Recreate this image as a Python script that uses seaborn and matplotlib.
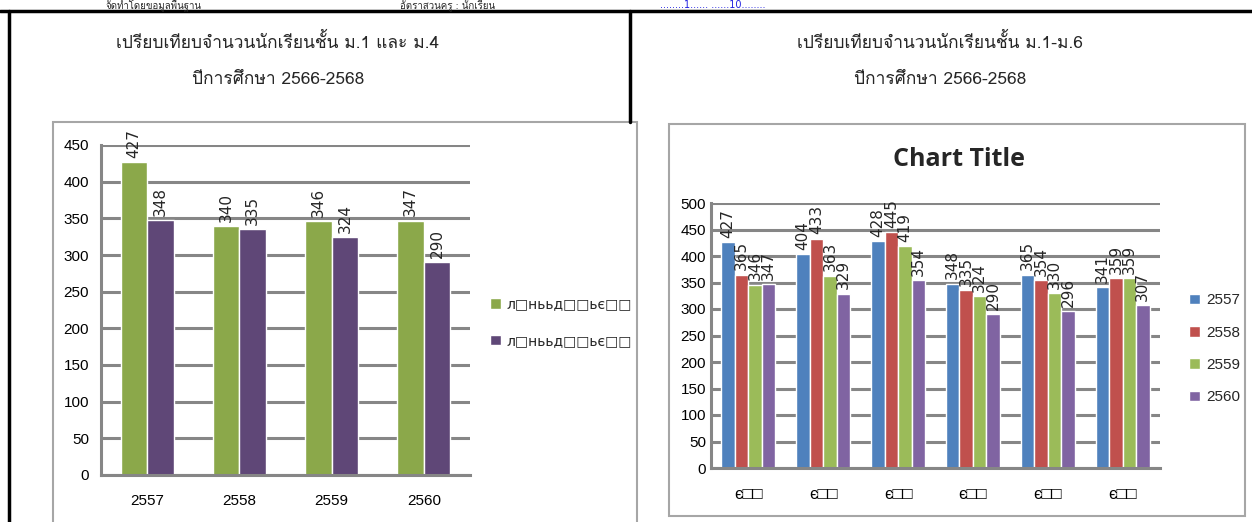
import matplotlib
matplotlib.use("Agg")
import matplotlib.pyplot as plt
from matplotlib import font_manager
from matplotlib.ft2font import FT2Font
from matplotlib.lines import Line2D
from matplotlib.patches import Rectangle
import seaborn as sns
import pandas as pd

# --- Data ---
left_years = ["2557", "2558", "2559", "2560"]
left_series = ["л□нььд□□ьє□□", "л□нььд□□ьє□□"]
left_m1 = [427, 340, 346, 347]
left_m4 = [348, 335, 324, 290]

right_classes = ["є□□"] * 6
right_years = ["2557", "2558", "2559", "2560"]
right_2557 = [427, 404, 428, 348, 365, 341]
right_2558 = [365, 433, 445, 335, 354, 359]
right_2559 = [346, 363, 419, 324, 330, 359]
right_2560 = [347, 329, 354, 290, 296, 307]

left_title = ["เปรียบเทียบจำนวนนักเรียนชั้น ม.1 และ ม.4", "ปีการศึกษา 2566-2568"]
right_title = ["เปรียบเทียบจำนวนนักเรียนชั้น ม.1-ม.6", "ปีการศึกษา 2566-2568"]

W, H = 1252, 522
BOXY = ["DejaVu Sans", "Noto Sans CJK SC"]


def find_thai_font():
    # look for any installed font that has Thai glyphs
    for f in font_manager.fontManager.ttflist:
        try:
            cmap = FT2Font(f.fname).get_charmap()
        except Exception:
            continue
        if 0x0E01 in cmap and 0x0E40 in cmap:
            return f.name
    return None


def px_axes(fig, x0, y0, x1, y1):
    return fig.add_axes([x0 / W, 1 - y1 / H, (x1 - x0) / W, (y1 - y0) / H])


def style_axes(ax, ymax, step):
    ax.set_ylim(0, ymax)
    ax.set_yticks(range(0, ymax + 1, step))
    ax.set_xlabel("")
    ax.set_ylabel("")
    ax.grid(axis="y", color="#868686", linewidth=2.2)
    ax.grid(axis="x", visible=False)
    ax.set_axisbelow(True)
    for side in ["top", "right"]:
        ax.spines[side].set_visible(False)
    for side in ["left", "bottom"]:
        ax.spines[side].set_color("#868686")
        ax.spines[side].set_linewidth(2.2)
    ax.tick_params(axis="both", colors="#868686", length=5, width=1.5, labelsize=11)
    for lab in ax.get_yticklabels():
        lab.set_color("black")
        lab.set_family("Liberation Sans")
    for lab in ax.get_xticklabels():
        lab.set_color("black")
        lab.set_family(["Liberation Sans", "Noto Sans CJK SC"])
    ax.set_facecolor("white")


def add_labels(ax):
    for cont in ax.containers:
        ax.bar_label(cont, labels=[f"{int(v)}" for v in cont.datavalues], rotation=90,
                     padding=3, fontsize=11, family="DejaVu Sans")


sns.set_theme(style="white")
thai = find_thai_font()
title_family = [thai, "DejaVu Sans"] if thai else ["DejaVu Sans"]
plt.rcParams["font.family"] = ["DejaVu Sans", "Noto Sans CJK SC"]

fig = plt.figure(figsize=(W / 100, H / 100), dpi=100)
fig.patch.set_facecolor("white")

# document frame lines
fig.add_artist(Line2D([0, 1], [1 - 11 / H, 1 - 11 / H], color="black", linewidth=2.5))
fig.add_artist(Line2D([9 / W, 9 / W], [0, 1 - 11 / H], color="black", linewidth=2.5))
fig.add_artist(Line2D([630 / W, 630 / W], [1 - 122 / H, 1 - 11 / H], color="black", linewidth=2.5))

# half-hidden text line of the document above the frame
fig.text(660 / W, 1 - 5 / H, "........1...... ......10........", color="#2020e0", fontsize=7,
         ha="left", va="center")
fig.text(105 / W, 1 - 5 / H, "จัดทำโดยข้อมูลพื้นฐาน", fontsize=7, ha="left", va="center",
         family=title_family)
fig.text(400 / W, 1 - 5 / H, "อัตราส่วนครู : นักเรียน", fontsize=7, ha="left", va="center",
         family=title_family)

# section titles
for cx, lines in [(278, left_title), (940, right_title)]:
    fig.text(cx / W, 1 - 42 / H, lines[0], fontsize=12.5, ha="center", va="center", family=title_family)
    fig.text(cx / W, 1 - 80 / H, lines[1], fontsize=12.5, ha="center", va="center", family=title_family)

# chart boxes
fig.add_artist(Rectangle((53 / W, -0.01), (637 - 53) / W, 1 - 122 / H + 0.01, transform=fig.transFigure,
                         facecolor="white", edgecolor="#a6a6a6", linewidth=1.5, zorder=0))
fig.add_artist(Rectangle((669 / W, 1 - 516 / H), (1245 - 669) / W, (516 - 124) / H,
                         transform=fig.transFigure, facecolor="white", edgecolor="#a6a6a6",
                         linewidth=1.5, zorder=0))

# --- left chart ---
left_df = pd.DataFrame({
    "year": left_years * 2,
    "count": left_m1 + left_m4,
    "series": ["m1"] * 4 + ["m4"] * 4,
})
ax1 = px_axes(fig, 101, 145, 470, 475)
sns.barplot(data=left_df, x="year", y="count", hue="series", ax=ax1,
            palette=["#8BA84A", "#5F4777"], width=0.575, saturation=1)
style_axes(ax1, 450, 50)
ax1.set_xlim(-0.5, 3.5)
ax1.tick_params(axis="x", pad=14)
ax1.set_xticks([-0.5, 0.5, 1.5, 2.5, 3.5], minor=True)
ax1.tick_params(axis="x", which="major", length=0)
ax1.tick_params(axis="x", which="minor", length=6, width=1.5, colors="#868686")
add_labels(ax1)
handles, _ = ax1.get_legend_handles_labels()
ax1.legend(handles, left_series, loc="center left", bbox_to_anchor=(1.02, 0.462), frameon=False,
           handlelength=0.8, handleheight=0.8, handletextpad=0.4, labelspacing=1.6,
           prop={"family": BOXY, "size": 10})

# --- right chart ---
right_df = pd.DataFrame({
    "cls": [f"c{i}" for i in range(6)] * 4,
    "count": right_2557 + right_2558 + right_2559 + right_2560,
    "year": sum([[y] * 6 for y in right_years], []),
})
ax2 = px_axes(fig, 711, 203, 1160, 468)
sns.barplot(data=right_df, x="cls", y="count", hue="year", ax=ax2,
            palette=["#4F81BD", "#C0504D", "#9BBB59", "#8064A2"], width=0.72, saturation=1)
ax2.set_xticks(range(6))
ax2.set_xticklabels(right_classes)
style_axes(ax2, 500, 50)
ax2.set_xlim(-0.5, 5.5)
ax2.tick_params(axis="x", length=0, pad=14, labelsize=12)
ax2.tick_params(axis="y", length=0)
add_labels(ax2)
fig.text(959 / W, 1 - 160 / H, "Chart Title", fontsize=18, fontweight="bold", ha="center",
         va="center", family="Open Sans")
ax2.legend(loc="center left", bbox_to_anchor=(1.035, 0.45), frameon=False,
           handlelength=0.7, handleheight=0.7, handletextpad=0.4, labelspacing=1.2,
           prop={"family": "Liberation Sans", "size": 11})

fig.savefig("out.png", dpi=100, facecolor="white")
